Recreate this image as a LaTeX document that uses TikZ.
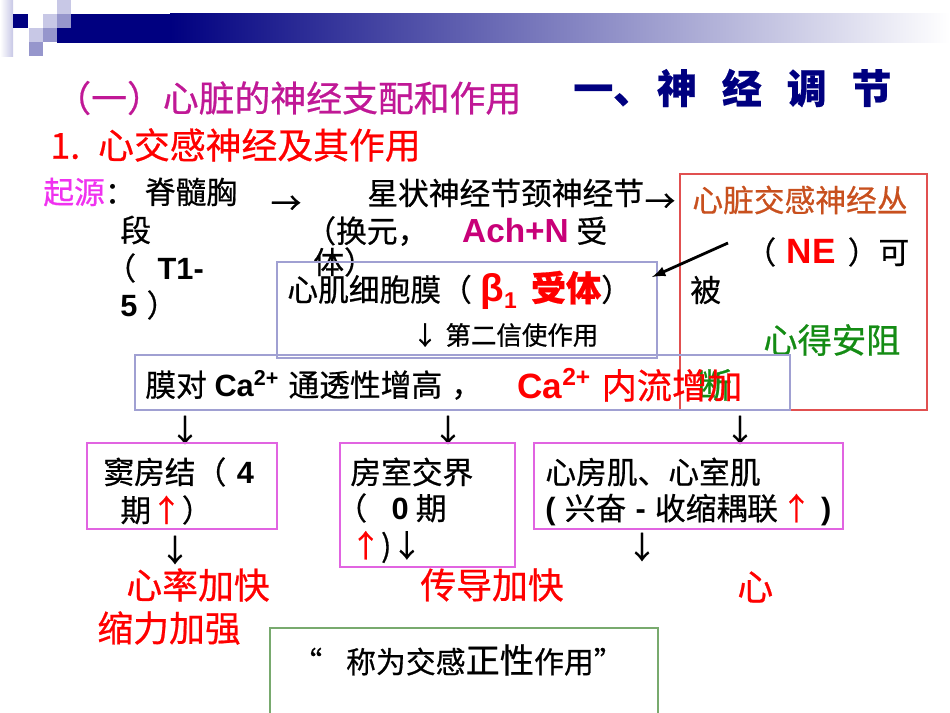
\documentclass[tikz,border=0pt]{standalone}
\usepackage{fontspec}
\setmainfont{Noto Sans CJK SC}[FakeBold=0.6]
\newfontfamily\latin{Liberation Sans}

\begin{document}
\begin{tikzpicture}[
    x=0.02cm,
    y=-0.02cm,
    >=latex,
    txt/.style={
        anchor=west,
        inner sep=0pt,
        font=\fontsize{17.5}{20}\selectfont
    },
    bigtxt/.style={
        anchor=west,
        inner sep=0pt,
        font=\fontsize{20.4}{24}\selectfont
    },
    smalltxt/.style={
        anchor=west,
        inner sep=0pt,
        font=\fontsize{14.5}{17}\selectfont
    },
    downarrow/.style={
        inner sep=0pt,
        font=\fontsize{17.5}{20}\selectfont
    },
    framebox/.style={
        draw,
        line width=0.7pt,
        inner sep=0pt
    }
]

% Define colors
\definecolor{barnavy}{RGB}{0,0,128}
\definecolor{barlight}{RGB}{200,200,230}
\definecolor{barmid}{RGB}{150,150,204}
\definecolor{titlemagenta}{RGB}{192,24,150}
\definecolor{achpink}{RGB}{200,0,120}
\definecolor{originpink}{RGB}{240,50,240}
\definecolor{plexbrown}{RGB}{200,80,30}
\definecolor{drugGreen}{RGB}{20,140,20}
\definecolor{frameviolet}{RGB}{160,160,210}
\definecolor{framered}{RGB}{225,80,80}
\definecolor{framepink}{RGB}{225,100,225}
\definecolor{framegreen}{RGB}{120,170,110}

\clip (0,0) rectangle (950,713);
\fill[white] (0,0) rectangle (950,713);

% ============ HEADER BAR ============
\shade[left color=white, right color=barlight] (0,0) rectangle (13,57);
\fill[barnavy] (57,14) rectangle (170,43);
\shade[left color=barnavy, right color=white] (170,14) rectangle (950,43);
\fill[barnavy] (13,14) rectangle +(15,14);
\fill[barlight] (43,14) rectangle +(14,14);
\fill[barlight] (57,0) rectangle +(14,14);
\fill[barmid] (57,14) rectangle +(14,14);
\fill[barlight] (29,28) rectangle +(14,14);
\fill[barmid] (43,28) rectangle +(14,14);
\fill[barmid] (29,42) rectangle +(14,14);

% ============ TITLES ============
\node[bigtxt, text=titlemagenta] (parttitle) at (55,98) {（一）心脏的神经支配和作用};
\node[bigtxt, text=red] (subtitle) at (50,145) {1.\hspace{0.5em}心交感神经及其作用};
\node[anchor=west, inner sep=0pt, text=barnavy,
      font=\fontsize{22.7}{26}\selectfont\bfseries] (maintitle) at (573,88)
      {一、\hspace{0.1em}神\hspace{0.625em}经\hspace{0.625em}调\hspace{0.625em}节};

% ============ ORIGIN ROW ============
\node[txt] (origin) at (43,192) {\textcolor{originpink}{起源}：\hspace{0.3em}脊髓胸};
\node[txt] (originb) at (120,230) {段};
\node[txt] (originc) at (105,268) {（\hspace{0.7em}{\latin\bfseries T1-}};
\node[txt] (origind) at (120,305) {{\latin\bfseries 5}\hspace{0.3em}）};
\node[downarrow] (arrowa) at (286,205) {→};

\node[txt] (ganglion) at (367,193) {星状神经节颈神经节};
\node[txt] (ganglionb) at (305,231)
      {（换元，\hspace{1.1em}{\latin\bfseries\fontsize{19}{22}\selectfont\textcolor{achpink}{Ach+N}}\hspace{0.25em}受};
\node[txt] (ganglionc) at (313,262) {体）};
\node[downarrow] (arrowb) at (660,203) {→};

% ============ CARDIAC PLEXUS ============
\node[framebox, draw=framered, minimum width=4.94cm, minimum height=4.72cm] (plexbox) at (803.5,292) {};
\node[txt, text=plexbrown] (plexus) at (692,200) {心脏交感神经丛};
\node[txt] (plexusb) at (745,252)
      {（\hspace{6pt}{\latin\bfseries\fontsize{20}{24}\selectfont\textcolor{red}{NE}}\hspace{7pt}）可};
\node[txt] (plexusc) at (690,290) {被};
\node[txt, font=\fontsize{19.5}{22}\selectfont, text=drugGreen] (blocker) at (763,340) {心得安阻};
\node[txt, font=\fontsize{19.5}{22}\selectfont, text=drugGreen] (blockerb) at (697,385) {断};

% ============ MEMBRANE ============
\node[framebox, draw=frameviolet, minimum width=7.6cm, minimum height=1.92cm] (membox) at (467,310) {};
\node[txt] (membrane) at (287,290)
      {心肌细胞膜（\hspace{5pt}{\color{red}\latin\bfseries\fontsize{22}{24}\selectfont β\raisebox{-0.35ex}{\fontsize{13}{14}\selectfont 1}}\hspace{8pt}{\color{red}\bfseries\fontsize{20}{24}\selectfont 受体}）};
\node[smalltxt] (messenger) at (412,335) {↓\hspace{0.3em}第二信使作用};

\coordinate (nestart) at (728,243);
\coordinate (betatip) at (652,277);
\draw[->, line width=1.6pt] (nestart) -- (betatip);

% ============ CALCIUM ============
\node[framebox, draw=frameviolet, minimum width=13.1cm, minimum height=1.1cm] (cabox) at (462.5,382.5) {};
\node[txt] (calcium) at (145,385)
      {膜对\hspace{0.25em}{\latin\bfseries Ca\textsuperscript{2+}}\hspace{0.3em}通透性增高\hspace{0.3em}，};
\node[txt, font=\fontsize{20}{24}\selectfont, text=red] (influx) at (517,385)
      {{\latin\bfseries Ca\textsuperscript{2+}}\hspace{0.3em}内流增加};

\node[downarrow] (arrowc) at (185,430) {↓};
\node[downarrow] (arrowd) at (448,430) {↓};
\node[downarrow] (arrowe) at (740,430) {↓};

% ============ TARGETS ============
\node[framebox, draw=framepink, minimum width=3.8cm, minimum height=1.72cm] (sabox) at (182,486) {};
\node[txt] (sanode) at (103,472) {窦房结（\hspace{6pt}{\latin\bfseries 4}};
\node[txt] (sanodeb) at (120,510) {期\textcolor{red}{↑}）};
\node[downarrow] (arrowf) at (175,550) {↓};

\node[framebox, draw=framepink, minimum width=3.5cm, minimum height=2.48cm] (avbox) at (427.5,505) {};
\node[txt] (avnode) at (350,472) {房室交界};
\node[txt] (avnodeb) at (336,508) {（\hspace{14pt}{\latin\bfseries 0}\hspace{4pt}期};
\node[txt] (avnodec) at (350,547) {\textcolor{red}{↑})↓};

\node[framebox, draw=framepink, minimum width=6.18cm, minimum height=1.72cm] (musclebox) at (688.5,486) {};
\node[txt] (muscle) at (545,472) {心房肌、心室肌};
\node[txt] (muscleb) at (545,510)
      {{\latin\bfseries (}\hspace{0.3em}兴奋\hspace{0.3em}{\latin\bfseries -}\hspace{0.3em}收缩耦联\hspace{0.1em}\textcolor{red}{↑}\hspace{0.3em}{\latin\bfseries )}};
\node[downarrow] (arrowg) at (642,547) {↓};

% ============ EFFECTS ============
\node[bigtxt, text=red] (rate) at (126,585) {心率加快};
\node[bigtxt, text=red] (force) at (97,628) {缩力加强};
\node[bigtxt, text=red] (conduct) at (420,585) {传导加快};
\node[bigtxt, text=red] (heart) at (737,587) {心};

\node[framebox, draw=framegreen, minimum width=7.76cm, minimum height=2.08cm] (notebox) at (464,680) {};
\node[txt, font=\fontsize{17}{20}\selectfont] (note) at (292,660)
      {“\hspace{0.8em}称为交感{\fontsize{19.5}{22}\selectfont 正性}作用”};

\end{tikzpicture}
\end{document}
